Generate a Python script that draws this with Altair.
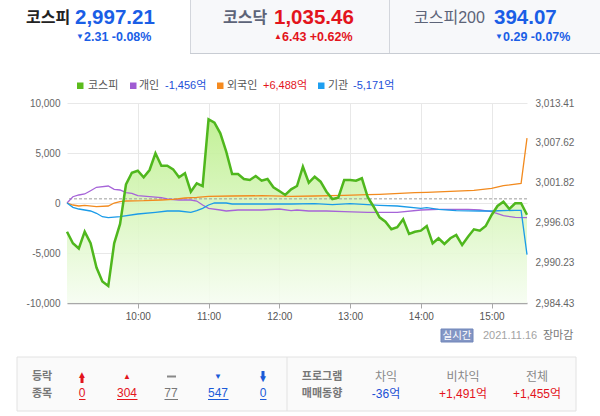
import altair as alt
import pandas as pd

# ---------------- data ----------------
trade_date = "2021-11-16"

kospi_times = [
    "09:00", "09:05", "09:10", "09:15", "09:20", "09:25", "09:30", "09:35", "09:40", "09:45",
    "09:50", "09:55", "10:00", "10:05", "10:10", "10:15", "10:20", "10:25", "10:30", "10:35",
    "10:40", "10:45", "10:50", "10:55", "11:00", "11:05", "11:10", "11:15", "11:20", "11:25",
    "11:30", "11:35", "11:40", "11:45", "11:50", "11:55", "12:00", "12:05", "12:10", "12:15",
    "12:20", "12:25", "12:30", "12:35", "12:40", "12:45", "12:50", "12:55", "13:00", "13:05",
    "13:10", "13:15", "13:20", "13:25", "13:30", "13:35", "13:40", "13:45", "13:50", "13:55",
    "14:00", "14:05", "14:10", "14:15", "14:20", "14:25", "14:30", "14:35", "14:40", "14:45",
    "14:50", "14:55", "15:00", "15:05", "15:10", "15:15", "15:20", "15:25", "15:30",
]
kospi_values = [
    2994.76, 2993.08, 2992.33, 2994.76, 2993.08, 2989.57, 2987.55, 2986.89, 2993.08, 2995.88,
    3001.60, 3003.31, 3003.60, 3002.64, 3003.70, 3006.12, 3004.33, 3004.33, 3003.80, 3002.64,
    3003.22, 3000.56, 3001.77, 3001.38, 3011.05, 3010.56, 3009.02, 3006.35, 3003.12, 3003.12,
    3002.40, 3002.25, 3002.83, 3002.15, 3002.40, 3001.20, 3000.66, 3000.08, 3000.90, 3001.38,
    3004.18, 3001.86, 3002.73, 3002.01, 3000.56, 2999.50, 2999.69, 3002.25, 3002.25, 3002.15,
    3002.50, 2999.75, 2998.38, 2996.85, 2996.21, 2995.11, 2995.40, 2996.56, 2994.43, 2994.76,
    2994.91, 2995.59, 2993.08, 2993.81, 2992.98, 2993.81, 2994.28, 2992.83, 2994.04, 2995.11,
    2994.91, 2995.59, 2997.18, 2998.49, 2999.11, 2998.05, 2998.88, 2998.88, 2997.21,
]

personal_times = [
    "09:00", "09:05", "09:10", "09:15", "09:20", "09:25", "09:35", "09:40", "09:45", "09:50",
    "09:55", "10:00", "10:10", "10:20", "10:25", "10:35", "10:45", "10:50", "10:55", "11:00",
    "11:10", "11:15", "11:25", "11:45", "12:00", "12:10", "12:15", "12:25", "12:40", "12:55",
    "13:15", "13:40", "14:00", "14:15", "14:40", "14:50", "15:00", "15:10", "15:20", "15:30",
]
personal_values = [
    0, 630, 800, 900, 1230, 1570, 1700, 1370, 1300, 1030,
    970, 730, 630, 530, 400, 300, 300, 200, -200, -530,
    -700, -800, -700, -700, -600, -770, -700, -800, -800, -870,
    -930, -930, -700, -630, -630, -700, -870, -1270, -1430, -1456,
]

foreign_times = [
    "09:00", "09:05", "09:10", "09:15", "09:25", "09:35", "09:40", "09:45", "09:50", "10:05",
    "10:20", "10:30", "10:40", "10:50", "11:00", "11:20", "11:45", "12:10", "12:30", "12:55",
    "13:15", "13:25", "13:55", "14:05", "14:25", "14:45", "15:00", "15:10", "15:25", "15:30",
]
foreign_values = [
    0, -200, -300, -230, -370, -300, 0, 130, 200, 230,
    300, 370, 500, 570, 670, 700, 730, 670, 700, 770,
    830, 870, 1030, 1070, 1170, 1270, 1470, 1730, 1970, 6488,
]

inst_times = [
    "09:00", "09:05", "09:10", "09:20", "09:25", "09:30", "09:35", "09:45", "10:00", "10:15",
    "10:25", "10:35", "10:45", "10:50", "10:55", "11:00", "11:05", "11:15", "11:20", "11:45",
    "12:10", "12:30", "12:45", "13:00", "13:15", "13:25", "13:40", "14:00", "14:05", "14:15",
    "14:30", "14:50", "15:00", "15:20", "15:25", "15:30",
]
inst_values = [
    0, -430, -600, -800, -1030, -1370, -1470, -1370, -1100, -930,
    -800, -800, -930, -770, -530, -200, 0, 0, -100, -100,
    -100, -70, -170, -70, -170, -230, -300, -530, -470, -630,
    -770, -800, -800, -730, -730, -5171,
]

series_names = ["개인", "외국인", "기관"]
series_colors = ["#a664d8", "#f28a1e", "#1a9be8"]

prev_close = 2999.52
left_ticks = [-10000, -5000, 0, 5000, 10000]
right_ticks = [2984.43, 2990.23, 2996.03, 3001.82, 3007.62, 3013.41]
hour_ticks = [10, 11, 12, 13, 14, 15]

# ---------------- layout ----------------
W, H = 460, 200
L, T = 67, 103
FONT = "Liberation Sans, Noto Sans CJK KR"
KFONT = "Noto Sans CJK KR"
BLUE = "#1a5ee6"
RED = "#e3141c"
TBLUE = "#1a5ad8"


def ts(hm):
    return f"{trade_date}T{hm}:00"


kospi_df = pd.DataFrame({"time": [ts(t) for t in kospi_times], "kospi": kospi_values})
rows = []
for name, times, vals in [
    ("개인", personal_times, personal_values),
    ("외국인", foreign_times, foreign_values),
    ("기관", inst_times, inst_values),
]:
    for t, v in zip(times, vals):
        rows.append({"time": ts(t), "value": v, "series": name})
inv_df = pd.DataFrame(rows)
one = pd.DataFrame({"_": [0]})


def dt(h, m=0):
    return alt.DateTime(year=2021, month=11, date=16, hours=h, minutes=m)


x_enc = alt.X(
    "time:T",
    scale=alt.Scale(domain=[dt(9), dt(15, 30)]),
    axis=alt.Axis(
        values=[dt(h) for h in hour_ticks], format="%H:%M", title=None,
        grid=True, gridColor="#e8e8e8", domainColor="#a8a8a8", domainWidth=1.5,
        tickColor="#a8a8a8", tickSize=5, labelColor="#555", labelFontSize=10,
        labelFont=FONT, labelPadding=3, labelFlush=False,
    ),
)

right_scale = alt.Scale(domain=[right_ticks[0], right_ticks[-1]])
right_axis = alt.Axis(
    values=right_ticks, format=",.2f", title=None, grid=False, domain=False,
    ticks=False, orient="right", labelColor="#666", labelFontSize=10,
    labelFont=FONT, labelPadding=8,
)
left_axis = alt.Axis(
    values=left_ticks, title=None, grid=True, gridColor="#e8e8e8", domain=False,
    ticks=False, orient="left", labelColor="#666", labelFontSize=10,
    labelFont=FONT, labelPadding=7,
    labelExpr="datum.value < 0 ? '-' + format(-datum.value, ',') : format(datum.value, ',')",
)

grad = alt.Gradient(
    gradient="linear",
    stops=[alt.GradientStop(color="#bcef8c", offset=0), alt.GradientStop(color="#f6fdf1", offset=1)],
    x1=0, x2=0, y1=0, y2=1,
)

area = alt.Chart(kospi_df).mark_area(color=grad, opacity=0.9).encode(
    x=x_enc,
    y=alt.Y("kospi:Q", scale=right_scale, axis=right_axis),
    y2=alt.datum(right_ticks[0]),
)
dash = alt.Chart(pd.DataFrame({"prev": [prev_close]})).mark_rule(
    color="#9c9c9c", strokeDash=[3, 2], strokeWidth=1
).encode(y=alt.Y("prev:Q", scale=right_scale, axis=right_axis))
right_group = alt.layer(area, dash)

inv = alt.Chart(inv_df).mark_line(strokeWidth=1.3).encode(
    x=x_enc,
    y=alt.Y("value:Q", scale=alt.Scale(domain=[-10000, 10000]), axis=left_axis),
    color=alt.Color("series:N", scale=alt.Scale(domain=series_names, range=series_colors), legend=None),
)

kline = alt.Chart(kospi_df).mark_line(color="#4fb71d", strokeWidth=2.5).encode(
    x=x_enc,
    y=alt.Y("kospi:Q", scale=right_scale, axis=None),
)


# ---------------- decorations ----------------
def text(s, x, y, size=12, color="#333", weight="normal", align="left", font=FONT):
    return alt.Chart(one).mark_text(
        text=s, fontSize=size, color=color, fontWeight=weight, align=align,
        baseline="middle", font=font,
    ).encode(x=alt.value(x - L), y=alt.value(y - T))


def rect(x1, y1, x2, y2, fill, stroke=None):
    kw = dict(fill=fill)
    if stroke:
        kw.update(stroke=stroke, strokeWidth=1)
    return alt.Chart(one).mark_rect(**kw).encode(
        x=alt.value(x1 - L), x2=alt.value(x2 - L), y=alt.value(y1 - T), y2=alt.value(y2 - T)
    )


def hline(x1, x2, y, color, width=1):
    return alt.Chart(one).mark_rule(color=color, strokeWidth=width).encode(
        x=alt.value(x1 - L), x2=alt.value(x2 - L), y=alt.value(y - T)
    )


def vline(x, y1, y2, color, width=1):
    return alt.Chart(one).mark_rule(color=color, strokeWidth=width).encode(
        x=alt.value(x - L), y=alt.value(y1 - T), y2=alt.value(y2 - T)
    )


def arrow(x, y_top, y_bot, color, up=True):
    # thick arrow built from a triangle head and a shaft
    if up:
        return [text("▲", x, y_top + 3, 10, color, align="center"),
                rect(x - 1.5, y_top + 4, x + 1.5, y_bot, color)]
    return [text("▼", x, y_bot - 3, 10, color, align="center"),
            rect(x - 1.5, y_top, x + 1.5, y_bot - 4, color)]


deco = [
    # tabs
    rect(190, -2, 602, 53, "#f7f8fa"),
    vline(190.5, 0, 53, "#d3d6dc"),
    vline(389.5, 0, 53, "#d3d6dc"),
    hline(190, 600, 53.5, "#c8ccd3"),
    text("코스피", 26, 18, 16, "#222", "bold", font=KFONT),
    text("2,997.21", 75, 18, 20.5, BLUE, "bold"),
    text("▼", 76, 37, 8, BLUE),
    text("2.31 -0.08%", 84, 36.5, 12.5, BLUE, "bold"),
    text("코스닥", 223, 18, 16, "#5d6478", "bold", font=KFONT),
    text("1,035.46", 274, 18, 20.5, RED, "bold"),
    text("▲", 274, 36.5, 8, RED),
    text("6.43 +0.62%", 282, 36.5, 12.5, RED, "bold"),
    text("코스피200", 414, 18, 16, "#5d6478"),
    text("394.07", 494, 18, 20.5, BLUE, "bold"),
    text("▼", 495, 37, 8, BLUE),
    text("0.29 -0.07%", 503, 36.5, 12.5, BLUE, "bold"),
    # legend
    rect(77, 82.5, 83.5, 89, "#5cbb1c"),
    text("코스피", 88, 85.5, 11, "#555"),
    rect(130, 82.5, 136.5, 89, "#a05cd2"),
    text("개인", 139, 85.5, 11, "#555"),
    text("-1,456억", 165, 85.5, 11, "#1b4fd8"),
    rect(217, 82.5, 223.5, 89, "#f58a1f"),
    text("외국인", 227, 85.5, 11, "#555"),
    text("+6,488억", 263, 85.5, 11, RED),
    rect(318, 82.5, 324.5, 89, "#1e9ff0"),
    text("기관", 328, 85.5, 11, "#555"),
    text("-5,171억", 353, 85.5, 11, "#1b4fd8"),
    # footer status
    rect(441, 329, 473, 342, "#8396c4", "#7086ba"),
    text("실시간", 457, 335.5, 10.5, "#ffffff", align="center", font=KFONT),
    text("2021.11.16", 483, 335.5, 11, "#a3a3a3"),
    text("장마감", 543, 335.5, 11, "#777", font=KFONT),
    # table
    rect(17, 357, 576, 411, "#fafafa", "#e2e2e2"),
    vline(287, 357, 411, "#e2e2e2"),
    text("등락", 42, 377, 11, "#777", "bold", "center", KFONT),
    text("종목", 42, 394, 11, "#777", "bold", "center", KFONT),
    *arrow(82, 372, 383, RED, up=True),
    text("0", 82, 393, 12, RED, align="center"),
    hline(79, 85.5, 399.5, RED),
    text("▲", 127, 377, 8, RED, align="center"),
    text("304", 127, 393, 12, RED, align="center"),
    hline(117, 137.5, 399.5, RED),
    rect(167, 375.5, 176, 377.5, "#888"),
    text("77", 171, 393, 12, "#777", align="center"),
    hline(164.5, 178, 399.5, "#777"),
    text("▼", 218, 377, 8, TBLUE, align="center"),
    text("547", 218, 393, 12, TBLUE, align="center"),
    hline(208, 228.5, 399.5, TBLUE),
    *arrow(263, 371, 382, TBLUE, up=False),
    text("0", 263, 393, 12, TBLUE, align="center"),
    hline(260, 266.5, 399.5, TBLUE),
    text("프로그램", 322, 377, 11, "#777", "bold", "center", KFONT),
    text("매매동향", 322, 394, 11, "#777", "bold", "center", KFONT),
    text("차익", 386, 377, 12, "#888", align="center"),
    text("-36억", 386, 394, 12, "#1a4fd5", align="center"),
    text("비차익", 463, 377, 12, "#888", align="center"),
    text("+1,491억", 463, 394, 12, RED, align="center"),
    text("전체", 537, 377, 12, "#888", align="center"),
    text("+1,455억", 537, 394, 12, RED, align="center"),
]

chart = (
    alt.layer(right_group, inv, kline, *deco)
    .resolve_scale(y="independent")
    .properties(
        width=W, height=H,
        padding={"left": L, "top": T, "right": 600 - L - W, "bottom": 416 - T - H},
        autosize=alt.AutoSizeParams(type="none"),
        background="white",
    )
    .configure_view(stroke=None)
)

chart.save("out.html", embed_options={"renderer": "svg", "actions": False})
